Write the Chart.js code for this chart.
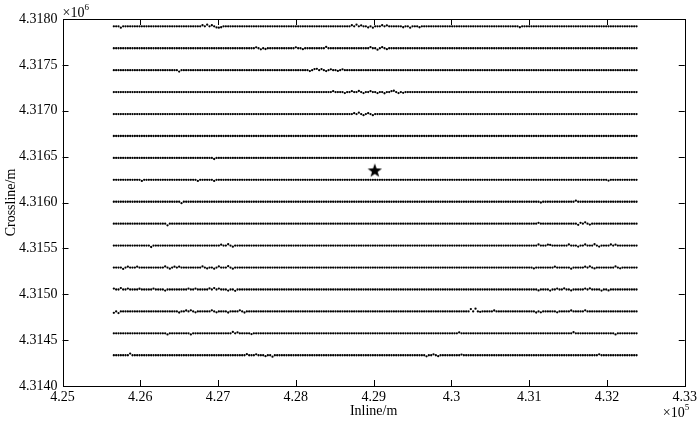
<!DOCTYPE html>
<html>
<head>
<meta charset="utf-8">
<script src="https://cdn.jsdelivr.net/npm/chart.js@4"></script>
<style>
	html, body { margin: 0; padding: 0; background: #fff; }
	#wrap { width: 700px; height: 421px; }
</style>
</head>
<body>
<div id="wrap"><canvas id="scatter-chart"></canvas></div>
<script>
// receiver lines (crossline value of each line, top to bottom)
const lineY = [
	4317920, 4317681, 4317442, 4317203, 4316964, 4316725, 4316486, 4316247,
	4316008, 4315769, 4315530, 4315291, 4315052, 4314813, 4314574, 4314335
]
// inline stations along every line
const stationFirst = 425660
const stationLast = 432380
const stationStep = 30

// points that sit off their line: [inline, offset in m]
const lineShifts = [
	[[425760, -15], [426800, 12], [426860, 18], [426930, 12], [426970, -12], [427020, -15], [427050, -10], [428720, 12], [428780, 18], [428850, 10], [428940, -12], [429000, -15], [429100, 12], [429170, 10], [429380, -10], [429470, -15], [429580, -10], [430880, -10]],
	[[427500, 10], [427550, -12], [427600, -8], [428010, 10], [428080, -10], [428390, 15], [428970, 12], [429040, -15], [429110, 12], [429170, -10]],
	[[426500, -15], [428170, -10], [428230, 12], [428270, 15], [428320, 12], [428400, -10], [428460, 10], [428550, -8], [428590, 10]],
	[[428490, 10], [428620, -10], [428710, 10], [428810, 12], [428880, -10], [428960, 10], [429040, -10], [429130, -12], [429220, 10], [429270, 15], [429320, -10], [429380, -8]],
	[[428740, 10], [428810, 15], [428880, -12], [428940, 10], [428990, -12]],
	[],
	[[426950, -12]],
	[[426030, -12], [426750, -12], [426950, -12], [432010, -8]],
	[[426540, -15], [431150, -8], [431600, 12]],
	[[426350, -18], [431110, 10], [431620, -12], [431670, 10], [431730, 15], [431780, -10]],
	[[426140, -15], [427050, 10], [427120, 15], [427180, -12], [431110, 12], [431240, 10], [431280, 8], [431500, 12], [431620, -10], [431710, 12], [431840, 15], [431910, -10], [432050, 12], [432100, 10]],
	[[425770, -15], [425840, 10], [425950, 10], [426310, 12], [426380, -12], [426440, 10], [426500, 10], [426790, 12], [426850, -10], [426950, -12], [427020, 12], [427120, 15], [427180, -12], [431050, -10], [431330, 10], [431530, -12], [431710, 10], [431790, 12], [431840, -10], [432110, 12], [432170, -8]],
	[[425670, 10], [425740, 15], [425830, 10], [425990, 8], [426160, 10], [426310, -12], [426630, 10], [426720, 10], [426890, 12], [426950, 15], [427020, 10], [427140, -12], [427210, -15], [431110, -10], [431280, -12], [431370, 10], [431460, 12], [431530, -10], [431710, 10], [431790, 12], [431920, -12], [432010, -10]],
	[[425670, -15], [425710, -18], [426500, -12], [426590, 10], [426660, 12], [426720, -10], [426910, 12], [426980, -10], [427120, -12], [427270, 12], [427340, -12], [430240, 25], [430310, 30], [430370, -5], [430560, 10], [431090, -12], [431150, -10], [431370, -10], [431530, 10], [431710, 12]],
	[[426340, -12], [426660, -12], [427180, 15], [427250, 10], [427440, -8], [430110, 10], [431560, 12], [432100, -12]],
	[[425860, 18], [427370, 12], [427490, 10], [427620, -10], [427690, -15], [429680, -12], [429770, 10], [429830, -10], [430130, 8], [431910, 10]]
]

// shot location
const shotX = 429015
const shotY = 4316350

const xTicks = [425000, 426000, 427000, 428000, 429000, 430000, 431000, 432000, 433000]
const yTicks = [4314000, 4314500, 4315000, 4315500, 4316000, 4316500, 4317000, 4317500, 4318000]

const stations = []
for (let x = stationFirst; x <= stationLast; x += stationStep) stations.push(x)

const receivers = []
lineY.forEach((y, i) => {
	const off = stations.map(() => 0)
	lineShifts[i].forEach(([sx, dy]) => {
		const k = Math.round((sx - stationFirst) / stationStep)
		if (k >= 0 && k < off.length) off[k] = dy
	})
	stations.forEach((x, k) => receivers.push({ x: x, y: y + off[k] }))
})

// filled five point star
const star = document.createElement('canvas')
star.width = 16
star.height = 16
{
	const c = star.getContext('2d')
	c.beginPath()
	for (let i = 0; i < 10; i++) {
		const r = i % 2 ? 3 : 7.5
		const a = -Math.PI / 2 + i * Math.PI / 5
		c.lineTo(8 + r * Math.cos(a), 8.5 + r * Math.sin(a))
	}
	c.closePath()
	c.fillStyle = '#000'
	c.fill()
}

const FONT = 'Liberation Serif, Times New Roman, serif'

const frame = {
	id: 'frame',
	afterDraw(chart) {
		const { ctx, chartArea: a, scales } = chart
		ctx.save()
		ctx.strokeStyle = '#000'
		ctx.lineWidth = 1
		ctx.strokeRect(Math.round(a.left) + 0.5, Math.round(a.top) + 0.5, Math.round(a.right - a.left), Math.round(a.bottom - a.top))
		ctx.beginPath()
		xTicks.slice(1, -1).forEach((v) => {
			const px = Math.round(scales.x.getPixelForValue(v)) + 0.5
			ctx.moveTo(px, a.bottom); ctx.lineTo(px, a.bottom - 6)
			ctx.moveTo(px, a.top); ctx.lineTo(px, a.top + 6)
		})
		yTicks.slice(1, -1).forEach((v) => {
			const py = Math.round(scales.y.getPixelForValue(v)) + 0.5
			ctx.moveTo(a.left, py); ctx.lineTo(a.left + 6, py)
			ctx.moveTo(a.right, py); ctx.lineTo(a.right - 6, py)
		})
		ctx.stroke()
		// exponents
		ctx.fillStyle = '#000'
		ctx.textBaseline = 'alphabetic'
		ctx.textAlign = 'left'
		ctx.font = '14px ' + FONT
		ctx.fillText('\u00d710', a.left, 17)
		ctx.font = '9px ' + FONT
		ctx.fillText('6', a.left + 22, 10)
		ctx.font = '14px ' + FONT
		ctx.fillText('\u00d710', a.right - 22, 417)
		ctx.font = '9px ' + FONT
		ctx.fillText('5', a.right, 410)
		ctx.restore()
	}
}

new Chart(document.getElementById('scatter-chart'), {
	type: 'scatter',
	data: {
		datasets: [
			{
				data: receivers,
				pointRadius: 1.15,
				pointBackgroundColor: '#000',
				pointBorderWidth: 0,
				pointHoverRadius: 1.15
			},
			{
				data: [{ x: shotX, y: shotY }],
				pointStyle: star,
				pointRadius: 8
			}
		]
	},
	options: {
		responsive: true,
		maintainAspectRatio: false,
		animation: false,
		events: [],
		layout: { padding: { top: 19, right: 12, left: 0, bottom: 0 } },
		plugins: {
			legend: { display: false },
			tooltip: { enabled: false }
		},
		scales: {
			x: {
				type: 'linear',
				min: 425000,
				max: 433000,
				afterBuildTicks: (s) => { s.ticks = xTicks.map((v) => ({ value: v })) },
				afterFit: (s) => { s.height = 35 },
				grid: { display: false, drawTicks: false },
				border: { display: false },
				ticks: {
					color: '#000',
					padding: 3,
					maxRotation: 0,
					font: { family: FONT, size: 14 },
					callback: (v) => String(parseFloat((v / 1e5).toFixed(2)))
				},
				title: {
					display: true,
					text: 'Inline/m',
					color: '#000',
					padding: { top: 0, bottom: 1 },
					font: { family: FONT, size: 14 }
				}
			},
			y: {
				type: 'linear',
				min: 4314000,
				max: 4318000,
				afterBuildTicks: (s) => { s.ticks = yTicks.map((v) => ({ value: v })) },
				afterFit: (s) => { s.width = 62.5 },
				grid: { display: false, drawTicks: false },
				border: { display: false },
				ticks: {
					color: '#000',
					padding: 5,
					font: { family: FONT, size: 14 },
					callback: (v) => (v / 1e6).toFixed(4)
				},
				title: {
					display: true,
					text: 'Crossline/m',
					color: '#000',
					padding: { top: 3, bottom: 0 },
					font: { family: FONT, size: 14 }
				}
			}
		}
	},
	plugins: [frame]
})
</script>
</body>
</html>
